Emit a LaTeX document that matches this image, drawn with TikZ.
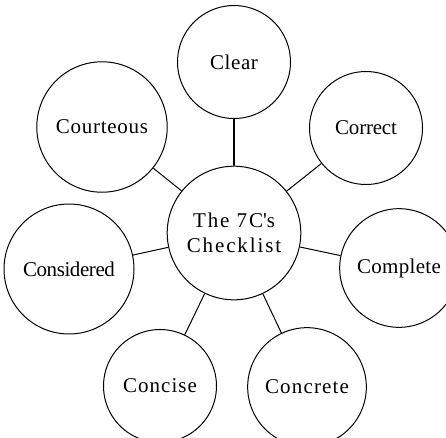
\documentclass[tikz,border=0pt]{standalone}
\usepackage{fontspec}
\setmainfont{Liberation Serif}
\usetikzlibrary{shapes.geometric}
\begin{document}
\begin{tikzpicture}[
			x=1pt, y=-1pt,
			bubble/.style={regular polygon, regular polygon sides=90, draw, line width=1pt, minimum size=113pt, inner sep=0pt, align=center, font=\fontsize{21}{25}\selectfont},
			track/.style={font=\fontsize{21}{25}\selectfont\addfontfeature{LetterSpace=#1}},
			spoke/.style={line width=1pt},
			stem/.style={line width=1.6pt}
			]
			\useasboundingbox (0,0) rectangle (446,437);
			\node[bubble, track=9] (hub) at (234,233) {The 7C\textquotesingle s\\Checklist};
			\node[bubble, track=3] (clear) at (234,62) {Clear};
			\node[bubble, track=-1] (correct) at (366,128) {Correct};
			\node[bubble, track=1.5] (complete) at (399,268) {Complete};
			\node[bubble, track=5.5] (concrete) at (307,387) {Concrete};
			\node[bubble, track=5] (concise) at (160,386) {Concise};
			\node[bubble, track=-2] (considered) at (69,269) {Considered};
			\node[bubble, track=3.5] (courteous) at (102,127) {Courteous};
			\draw[stem] (hub) -- (clear);
			\draw[spoke] (hub) -- (correct);
			\draw[spoke] (hub) -- (complete);
			\draw[spoke] (hub) -- (concrete);
			\draw[spoke] (hub) -- (concise);
			\draw[spoke] (hub) -- (considered);
			\draw[spoke] (hub) -- (courteous);
		\end{tikzpicture}
\end{document}
